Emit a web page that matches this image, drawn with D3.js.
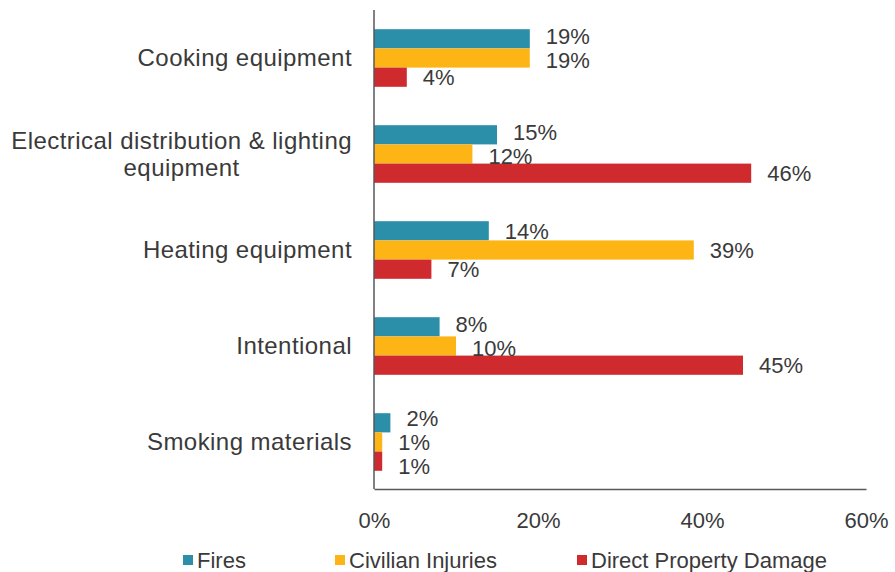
<!DOCTYPE html>
<html>
<head>
<meta charset="utf-8">
<script src="https://cdn.jsdelivr.net/npm/d3@7/dist/d3.min.js"></script>
<style>
  html, body { margin: 0; padding: 0; background: #fff; }
  svg { display: block; }
  text { font-family: "Liberation Sans", Arial, sans-serif; fill: #3a3a3a; }
</style>
</head>
<body>
<svg id="chart" width="895" height="572"></svg>
<script>
// Leading causes of home fires: share of fires, civilian injuries and direct property damage
const categories = [
  "Cooking equipment",
  "Electrical distribution & lighting\nequipment",
  "Heating equipment",
  "Intentional",
  "Smoking materials"
];
const seriesNames = ["Fires", "Civilian Injuries", "Direct Property Damage"];
const fires = [19, 15, 14, 8, 2];
const civilianInjuries = [19, 12, 39, 10, 1];
const propertyDamage = [4, 46, 7, 45, 1];
const xTicks = [0, 20, 40, 60];

const colors = ["#2B8FA9", "#FDB515", "#CF2A2E"];
const seriesValues = [fires, civilianInjuries, propertyDamage];

const svg = d3.select("#chart");
const plotLeft = 374, plotRight = 866, plotTop = 10, plotBottom = 490, axisY = 489;

const x = d3.scaleLinear().domain([0, 60]).range([plotLeft, plotRight]);
const y = d3.scaleBand().domain(categories).range([plotTop, plotBottom])
  .paddingInner(0.4).paddingOuter(0.2);
const ySub = d3.scaleBand().domain(seriesNames).range([0, y.bandwidth()]);

// bars and value labels
const rows = [];
categories.forEach((c, i) => {
  seriesNames.forEach((s, j) => {
    rows.push({ cat: c, series: s, value: seriesValues[j][i], color: colors[j] });
  });
});

const g = svg.append("g");
g.selectAll("rect.bar").data(rows).join("rect")
  .attr("class", "bar")
  .attr("x", x(0))
  .attr("y", d => y(d.cat) + ySub(d.series))
  .attr("width", d => x(d.value) - x(0))
  .attr("height", ySub.bandwidth())
  .attr("fill", d => d.color);

const labels = g.selectAll("text.val").data(rows).join("text")
  .attr("class", "val")
  .attr("x", d => x(d.value) + 16)
  .attr("dy", "0.35em")
  .style("font-size", "22px")
  .text(d => d.value + "%");

// keep value labels in one group from colliding: push apart neighbours that share x-space
labels.each(function (d) {
  d.ly = y(d.cat) + ySub(d.series) + ySub.bandwidth() / 2;
  d.x0 = x(d.value) + 16;
  d.x1 = d.x0 + this.getComputedTextLength();
});
const minGap = 24;
categories.forEach(c => {
  const grp = rows.filter(r => r.cat === c);
  for (let it = 0; it < 60; it++) {
    for (let k = 0; k < grp.length - 1; k++) {
      const a = grp[k], b = grp[k + 1];
      const overlapX = a.x0 < b.x1 && b.x0 < a.x1;
      const gap = b.ly - a.ly;
      if (overlapX && gap < minGap) {
        const push = (minGap - gap) / 2;
        a.ly -= push; b.ly += push;
      }
    }
  }
});
labels.attr("y", d => d.ly);

// x axis
const xAxis = svg.append("g")
  .attr("transform", `translate(0,${axisY})`)
  .call(d3.axisBottom(x).tickValues(xTicks).tickSize(0).tickFormat(d => d + "%"));
xAxis.select(".domain").attr("stroke", "#595959").attr("stroke-width", 1.5);
xAxis.selectAll(".tick text")
  .attr("y", 31).attr("dy", "0.35em")
  .style("font-size", "22px").attr("fill", "#3a3a3a")
  .style("font-family", "'Liberation Sans', Arial, sans-serif");

// y axis line
const yAxis = svg.append("g")
  .attr("transform", `translate(${plotLeft},0)`)
  .call(d3.axisLeft(y).tickSize(0).tickFormat(""));
yAxis.select(".domain").attr("d", `M0,${plotTop}V${axisY}`)
  .attr("stroke", "#595959").attr("stroke-width", 1.5);

// category labels: right-aligned block, lines centred on each other
const labelRight = 352, lineH = 27;
categories.forEach(c => {
  const lines = c.split("\n");
  const t = svg.append("text")
    .style("font-size", "24px")
    .style("letter-spacing", "0.45px");
  const cy = y(c) + y.bandwidth() / 2;
  const spans = lines.map((ln, k) => t.append("tspan")
    .attr("y", cy + (k - (lines.length - 1) / 2) * lineH)
    .attr("dy", "0.35em")
    .text(ln));
  const w = d3.max(spans, s => s.node().getComputedTextLength());
  t.attr("text-anchor", "middle");
  spans.forEach(s => s.attr("x", labelRight - w / 2));
});

// legend
const legendX = [183, 335, 577];
const leg = svg.append("g");
seriesNames.forEach((s, j) => {
  leg.append("rect").attr("x", legendX[j]).attr("y", 555)
    .attr("width", 10).attr("height", 10).attr("fill", colors[j]);
  leg.append("text").attr("x", legendX[j] + 14).attr("y", 560)
    .attr("dy", "0.35em").style("font-size", "22px").text(s);
});
</script>
</body>
</html>
